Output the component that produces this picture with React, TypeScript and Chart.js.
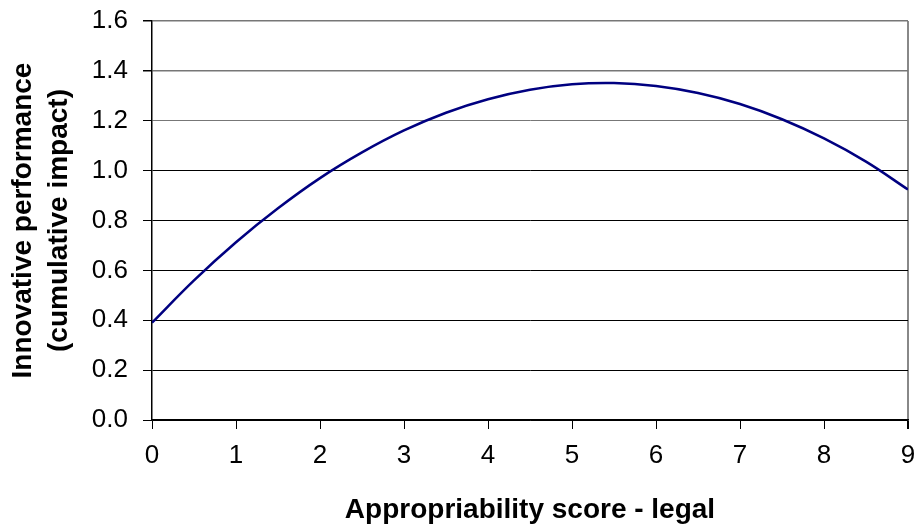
import React, { useEffect, useRef } from "react";
import { Chart, registerables } from "chart.js";

Chart.register(...registerables);

const xValues = [0, 0.5, 1, 1.5, 2, 2.5, 3, 3.5, 4, 4.5, 5, 5.5, 6, 6.5, 7, 7.5, 8, 8.5, 9];
const yValues = [0.39, 0.56, 0.713, 0.849, 0.97, 1.073, 1.161, 1.232, 1.286, 1.324, 1.346, 1.351, 1.339, 1.311, 1.267, 1.206, 1.129, 1.036, 0.924];
const xTitle = "Appropriability score - legal";
const yTitle = ["Innovative performance", "(cumulative impact)"];

export default function App() {
  const ref = useRef<HTMLCanvasElement | null>(null);
  useEffect(() => {
    document.body.style.margin = "0";
    const ctx = ref.current!;
    const font = "'Liberation Sans', Arial, sans-serif";
    const chart = new Chart(ctx, {
      type: "line",
      data: {
        datasets: [
          {
            data: xValues.map((x, i) => ({ x, y: yValues[i] })),
            borderColor: "#000080",
            borderWidth: 2.5,
            pointRadius: 0,
            tension: 0.4,
            fill: false,
          },
        ],
      },
      options: {
        animation: false,
        responsive: false,
        devicePixelRatio: 1,
        layout: { padding: { top: 21, right: 11, left: 0, bottom: 0 } },
        plugins: { legend: { display: false }, tooltip: { enabled: false } },
        scales: {
          x: {
            type: "linear",
            min: 0,
            max: 9,
            afterFit: (s: any) => { s.height = 109; s.paddingLeft = 0; s.paddingRight = 0; },
            ticks: { stepSize: 1, color: "#000", font: { family: font, size: 26 }, padding: 11, maxRotation: 0 },
            grid: {
              color: (c: any) => (c.index === 9 ? "#888888" : "rgba(0,0,0,0)"),
              lineWidth: (c: any) => (c.index === 9 ? 2 : 1),
              tickColor: "#000",
              tickLength: 9,
            },
            border: { color: "#000", width: 1.5 },
            title: { display: true, text: xTitle, color: "#000", font: { family: font, size: 28, weight: "bold" }, padding: { top: 0, bottom: 2 } },
          },
          y: {
            min: 0,
            max: 1.6,
            afterFit: (s: any) => { s.width = 152; s.paddingTop = 0; s.paddingBottom = 0; },
            ticks: { stepSize: 0.2, color: "#000", font: { family: font, size: 26 }, padding: 15, callback: (v: any) => Number(v).toFixed(1) },
            grid: {
              color: (c: any) => (c.index >= 6 ? "#777777" : "#000000"),
              lineWidth: (c: any) => (c.index >= 7 ? 1.5 : 1),
              tickColor: "#000",
              tickLength: 9,
            },
            border: { color: "#000", width: 1.5 },
            title: { display: true, text: yTitle, color: "#000", font: { family: font, size: 28, weight: "bold", lineHeight: 1.3 }, padding: { top: 5, bottom: 0 } },
          },
        },
      },
    });
    return () => chart.destroy();
  }, []);
  return (
    <div style={{ position: "absolute", left: 0, top: 0, width: 919, height: 529, background: "#fff" }}>
      <canvas ref={ref} width={919} height={529} style={{ width: 919, height: 529 }} />
    </div>
  );
}
